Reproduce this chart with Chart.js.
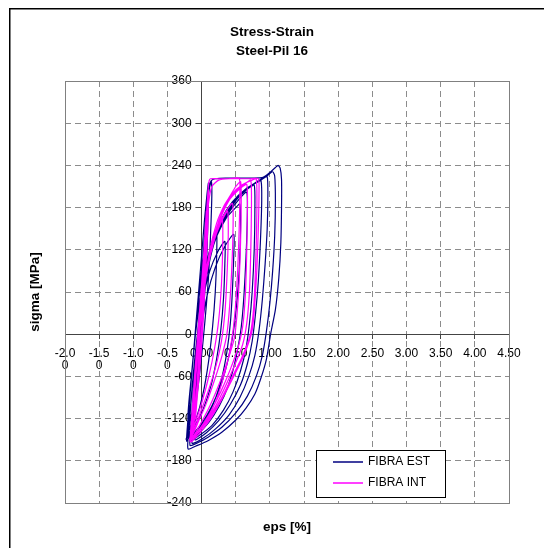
<!DOCTYPE html>
<html>
<head>
<meta charset="utf-8">
<script src="https://cdn.jsdelivr.net/npm/chart.js@4/dist/chart.umd.min.js"></script>
<style>
  html, body { margin: 0; padding: 0; background: #fff; }
  #wrap { width: 544px; height: 548px; position: relative; }
</style>
</head>
<body>
<div id="wrap"><canvas id="c" width="544" height="548"></canvas></div>
<script>
// Titles and series names
const titleLines = ['Stress-Strain', 'Steel-Pil 16'];
const xTitle = 'eps [%]';
const yTitle = 'sigma [MPa]';
const seriesNames = ['FIBRA EST', 'FIBRA INT'];

// Axis ticks
const xTickValues = [-2, -1.5, -1, -0.5, 0, 0.5, 1, 1.5, 2, 2.5, 3, 3.5, 4, 4.5];
const xTickLabels = [['-2.0', '0'], ['-1.5', '0'], ['-1.0', '0'], ['-0.5', '0'],
  '0.00', '0.50', '1.00', '1.50', '2.00', '2.50', '3.00', '3.50', '4.00', '4.50'];
const yTickValues = [-240, -180, -120, -60, 0, 60, 120, 180, 240, 300, 360];
const yTickLabels = ['-240', '-180', '-120', '-60', '0', '60', '120', '180', '240', '300', '360'];

// Outer fibre: [eps %, sigma MPa] along the loading history
const estPoints = [
  [0,0],[0.02,50],[0.04,100],[0.03,60],[0.0,0],[-0.04,-50],[-0.08,-100],[-0.06,-60],[-0.02,0],[0.02,60],
  [0.05,120],[0.08,170],[0.06,110],[0.02,40],[-0.03,-30],[-0.09,-100],[-0.14,-140],[-0.11,-80],[-0.06,-10],
  [-0.01,60],[0.04,130],[0.08,190],[0.11,212],[0.15,219],[0.2,221],[0.35,222],[0.55,222],[0.75,222],[0.9,223],
  [1.0,230],[1.08,237],[1.12,240],[1.15,236],[1.17,220],[1.17,180],[1.16,130],[1.13,80],[1.08,35],[1.01,0],
  [0.95,-35],[0.87,-62],[0.78,-85],[0.65,-105],[0.5,-122],[0.3,-139],[0.1,-151],[-0.06,-158],[-0.2,-163],

  [-0.18,-130],[-0.15,-90],[-0.1,-40],[-0.05,10],[0.0,55],[0.06,95],[0.15,130],[0.28,162],[0.45,188],[0.65,207],
  [0.85,218],[0.97,226],[1.04,231],[1.07,225],[1.08,190],[1.07,140],[1.04,90],[1.0,45],[0.95,5],[0.89,-30],
  [0.8,-60],[0.67,-88],[0.5,-112],[0.3,-132],[0.1,-146],[-0.05,-154],[-0.17,-158],

  [-0.15,-125],[-0.12,-80],[-0.08,-30],[-0.03,20],[0.03,70],[0.1,108],[0.2,140],[0.35,172],[0.55,198],[0.75,213],
  [0.9,222],[0.96,224],[0.97,200],[0.96,150],[0.93,100],[0.89,50],[0.84,5],[0.78,-30],[0.69,-60],[0.56,-90],
  [0.4,-115],[0.2,-135],[0.02,-148],[-0.14,-155],

  [-0.12,-120],[-0.09,-70],[-0.05,-20],[0.0,30],[0.06,80],[0.14,118],[0.27,155],[0.45,186],[0.65,206],[0.82,217],
  [0.87,218],[0.88,190],[0.86,130],[0.83,75],[0.79,30],[0.74,-10],[0.67,-42],[0.57,-72],[0.42,-100],[0.25,-123],
  [0.07,-140],[-0.1,-150],

  [-0.1,-110],[-0.07,-60],[-0.03,-10],[0.02,40],[0.09,90],[0.18,128],[0.32,162],[0.5,190],[0.68,207],[0.77,212],
  [0.78,180],[0.77,120],[0.74,60],[0.7,15],[0.65,-20],[0.57,-52],[0.46,-82],[0.32,-108],[0.15,-130],[-0.02,-143],
  [-0.14,-150],

  [-0.13,-115],[-0.1,-60],[-0.05,-5],[0.01,50],[0.1,100],[0.22,140],[0.38,170],[0.55,192],[0.66,202],[0.67,170],
  [0.65,110],[0.62,55],[0.58,10],[0.52,-25],[0.44,-58],[0.33,-88],[0.18,-115],[0.02,-135],[-0.12,-146],

  [-0.2,-120],[-0.15,-60],[-0.09,0],[-0.02,50],[0.08,100],[0.2,135],[0.36,165],[0.5,180],[0.56,185],[0.57,150],
  [0.55,90],[0.51,40],[0.46,0],[0.39,-35],[0.29,-70],[0.15,-102],[0.0,-127],[-0.14,-142],

  [-0.1,-100],[-0.06,-45],[0.0,10],[0.08,55],[0.2,95],[0.34,125],[0.47,142],[0.47,110],[0.45,60],[0.42,15],
  [0.37,-25],[0.3,-60],[0.2,-92],[0.07,-120],[-0.08,-138],[-0.2,-148],

  [-0.17,-110],[-0.12,-55],[-0.06,0],[0.02,50],[0.12,90],[0.24,118],[0.34,132],[0.34,100],[0.32,50],[0.28,5],
  [0.22,-35],[0.14,-72],[0.03,-105],[-0.1,-130],[-0.21,-145],

  [-0.12,-100],[-0.08,-40],[-0.02,20],[0.06,80],[0.15,125],[0.22,148],[0.22,110],[0.2,60],[0.16,10],[0.1,-40],
  [0.02,-85],[-0.08,-120],[-0.18,-140],

  [-0.18,-100],[-0.12,-30],[-0.05,40],[0.02,110],[0.07,170],[0.11,205],[0.14,218],[0.15,200],[0.13,140],[0.1,80],
  [0.05,20],[-0.01,-40],[-0.08,-95],[-0.15,-135],[-0.22,-152],

  [-0.19,-110],[-0.13,-40],[-0.07,30],[-0.01,100],[0.04,160],[0.08,200],[0.1,215],[0.1,190],[0.08,120],[0.04,50],
  [-0.02,-20],[-0.09,-85],[-0.16,-130],[-0.23,-150]
];

// Inner fibre: [eps %, sigma MPa] along the loading history
const intPoints = [
  [0,0],[0.02,50],[0.04,110],[0.02,50],[-0.01,-10],[-0.05,-70],[-0.09,-120],[-0.06,-60],[-0.02,10],[0.02,80],
  [0.06,150],[0.09,200],[0.11,218],[0.13,221],[0.25,221],[0.4,221],[0.55,222],[0.56,200],[0.55,150],[0.53,95],
  [0.5,45],[0.46,5],[0.4,-30],[0.31,-65],[0.2,-97],[0.06,-125],[-0.08,-143],[-0.15,-150],

  [-0.12,-90],[-0.07,-20],[-0.01,60],[0.05,130],[0.1,185],[0.15,210],[0.25,219],[0.4,221],[0.55,221],[0.7,221],
  [0.83,221],[0.84,200],[0.83,150],[0.81,95],[0.78,45],[0.74,5],[0.62,-30],[0.47,-60],[0.3,-92],[0.12,-122],
  [-0.04,-142],[-0.16,-153],

  [-0.13,-100],[-0.09,-50],[-0.04,0],[0.02,50],[0.1,100],[0.2,145],[0.32,178],[0.45,200],[0.6,213],[0.74,219],
  [0.8,221],[0.81,190],[0.8,130],[0.78,70],[0.75,25],[0.7,-5],[0.58,-35],[0.44,-62],[0.28,-93],[0.1,-122],
  [-0.05,-140],[-0.15,-150],

  [-0.12,-95],[-0.08,-40],[-0.03,10],[0.04,70],[0.12,120],[0.22,158],[0.33,183],[0.42,197],[0.5,210],[0.57,217],
  [0.58,190],[0.57,130],[0.55,75],[0.52,30],[0.48,-5],[0.38,-38],[0.26,-70],[0.12,-102],[-0.02,-128],[-0.14,-147],

  [-0.11,-90],[-0.07,-35],[-0.02,20],[0.05,75],[0.14,122],[0.25,160],[0.38,188],[0.52,205],[0.65,215],[0.72,219],
  [0.73,185],[0.72,120],[0.7,60],[0.66,15],[0.6,-15],[0.48,-45],[0.33,-78],[0.16,-110],[0.0,-133],[-0.13,-148],

  [-0.1,-85],[-0.06,-30],[-0.01,25],[0.06,80],[0.15,125],[0.27,163],[0.4,190],[0.54,205],[0.66,213],[0.67,180],
  [0.66,115],[0.64,55],[0.6,10],[0.53,-20],[0.42,-50],[0.28,-82],[0.12,-112],[-0.03,-135],[-0.15,-149],

  [-0.12,-90],[-0.07,-30],[-0.01,30],[0.07,85],[0.17,130],[0.3,165],[0.45,186],[0.46,150],[0.44,90],[0.41,40],
  [0.37,0],[0.3,-30],[0.2,-62],[0.07,-98],[-0.05,-125],[-0.15,-146],

  [-0.11,-85],[-0.06,-25],[0.0,35],[0.08,90],[0.19,135],[0.3,162],[0.38,175],[0.39,140],[0.37,80],[0.34,30],
  [0.29,-10],[0.21,-45],[0.1,-80],[-0.02,-112],[-0.13,-140],

  [-0.1,-80],[-0.05,-20],[0.01,40],[0.09,95],[0.2,140],[0.3,166],[0.31,130],[0.29,70],[0.25,20],[0.19,-20],
  [0.11,-58],[0.01,-95],[-0.1,-128],[-0.16,-148],

  [-0.13,-100],[-0.09,-50],[-0.05,0],[-0.01,50],[0.03,100],[0.06,150],[0.09,195],[0.1,205],[0.09,150],[0.06,90],
  [0.03,30],[-0.01,-30],[-0.06,-85],[-0.11,-125],[-0.16,-150],

  [-0.12,-95],[-0.08,-40],[-0.04,10],[0.0,60],[0.03,110],[0.06,160],[0.07,175],[0.06,130],[0.04,70],[0.01,10],
  [-0.03,-45],[-0.08,-95],[-0.13,-130],[-0.17,-152],

  [-0.14,-110],[-0.1,-55],[-0.06,-5],[-0.02,45],[0.02,100],[0.05,140],[0.06,150],[0.05,100],[0.02,40],[-0.02,-20],
  [-0.07,-75],[-0.12,-120],[-0.16,-145],

  [-0.13,-100],[-0.09,-45],[-0.04,15],[0.0,70],[0.04,120],[0.07,165],[0.08,172],[0.07,120],[0.04,55],[0.0,-5],
  [-0.05,-60],[-0.1,-110],[-0.15,-142],

  [-0.12,-90],[-0.07,-30],[-0.03,25],[0.01,80],[0.05,135],[0.08,180],[0.09,190],[0.08,135],[0.05,70],[0.01,5],
  [-0.04,-55],[-0.1,-105],[-0.15,-140],[-0.18,-150]
];

const FONT = '"Liberation Sans", Arial, sans-serif';
const toXY = pts => pts.map(([x, y]) => ({ x, y }));
// gap kept between the vertical axis line and its right-aligned labels
const Y_LABEL_GAP = '   ';

// Frame, titles and the legend box drawn around the plot
const decor = {
  id: 'decor',
  beforeDatasetsDraw(chart) {
    const { ctx, chartArea: a } = chart;
    ctx.save();
    ctx.strokeStyle = '#808080';
    ctx.lineWidth = 1;
    ctx.strokeRect(Math.round(a.left) + 0.5, Math.round(a.top) + 0.5,
      Math.round(a.right - a.left), Math.round(a.bottom - a.top));
    ctx.restore();
  },
  afterDraw(chart) {
    const { ctx, chartArea: a } = chart;
    ctx.save();
    // outer frame
    ctx.strokeStyle = '#000';
    ctx.lineWidth = 1.5;
    ctx.strokeRect(9.75, 8.75, 600, 600);

    // chart title
    ctx.fillStyle = '#000';
    ctx.textAlign = 'center';
    ctx.textBaseline = 'alphabetic';
    ctx.font = 'bold 13.5px ' + FONT;
    ctx.fillText(titleLines[0], 272, 36);
    ctx.fillText(titleLines[1], 272, 55);

    // axis titles
    ctx.fillText(xTitle, (a.left + a.right) / 2, 531);
    ctx.save();
    ctx.translate(39, (a.top + a.bottom) / 2);
    ctx.rotate(-Math.PI / 2);
    ctx.fillText(yTitle, 0, 0);
    ctx.restore();

    // legend
    const lx = 316.5, ly = 450.5, lw = 129, lh = 47;
    ctx.fillStyle = '#fff';
    ctx.fillRect(lx, ly, lw, lh);
    ctx.strokeStyle = '#000';
    ctx.lineWidth = 1;
    ctx.strokeRect(lx, ly, lw, lh);
    const colors = ['#000080', '#FF00FF'];
    const rows = [462, 483];
    ctx.font = '12px ' + FONT;
    ctx.textAlign = 'left';
    ctx.textBaseline = 'middle';
    rows.forEach((y, i) => {
      ctx.strokeStyle = colors[i];
      ctx.lineWidth = 1.5;
      ctx.beginPath();
      ctx.moveTo(333, y);
      ctx.lineTo(363, y);
      ctx.stroke();
      ctx.fillStyle = '#000';
      ctx.fillText(seriesNames[i], 368, y);
    });
    ctx.restore();
  }
};

new Chart(document.getElementById('c'), {
  type: 'scatter',
  data: {
    datasets: [
      { label: seriesNames[0], data: toXY(estPoints), borderColor: '#000080', backgroundColor: '#000080',
        borderWidth: 1.2, showLine: true, pointRadius: 0, tension: 0.2, fill: false, order: 2 },
      { label: seriesNames[1], data: toXY(intPoints), borderColor: '#FF00FF', backgroundColor: '#FF00FF',
        borderWidth: 1.2, showLine: true, pointRadius: 0, tension: 0.2, fill: false, order: 1 }
    ]
  },
  options: {
    responsive: false,
    animation: false,
    devicePixelRatio: 1,
    layout: { padding: { top: 81, left: 65, right: 35, bottom: 45 } },
    plugins: { legend: { display: false }, title: { display: false }, tooltip: { enabled: false } },
    scales: {
      x: {
        type: 'linear', min: -2, max: 4.5, position: { y: 0 },
        afterBuildTicks: s => { s.ticks = xTickValues.map(v => ({ value: v })); },
        ticks: {
          callback: (v, i) => xTickLabels[i], color: '#000',
          font: { family: FONT, size: 12, lineHeight: 1 },
          padding: 9, maxRotation: 0, minRotation: 0, autoSkip: false
        },
        grid: { color: '#8c8c8c', lineWidth: 1, tickLength: 4, tickColor: '#444', tickWidth: 1, tickBorderDash: [] },
        border: { display: true, color: '#444', width: 1, dash: [6, 4] }
      },
      y: {
        type: 'linear', min: -240, max: 360, position: { x: 0 },
        afterBuildTicks: s => { s.ticks = yTickValues.map(v => ({ value: v })); },
        ticks: {
          callback: (v, i) => yTickLabels[i] + Y_LABEL_GAP, color: '#000',
          font: { family: FONT, size: 12, lineHeight: 1 },
          padding: 5, autoSkip: false
        },
        grid: { color: '#8c8c8c', lineWidth: 1, tickLength: 5, tickColor: '#444', tickWidth: 1, tickBorderDash: [] },
        border: { display: true, color: '#444', width: 1, dash: [6, 4] }
      }
    }
  },
  plugins: [decor]
});
</script>
</body>
</html>
